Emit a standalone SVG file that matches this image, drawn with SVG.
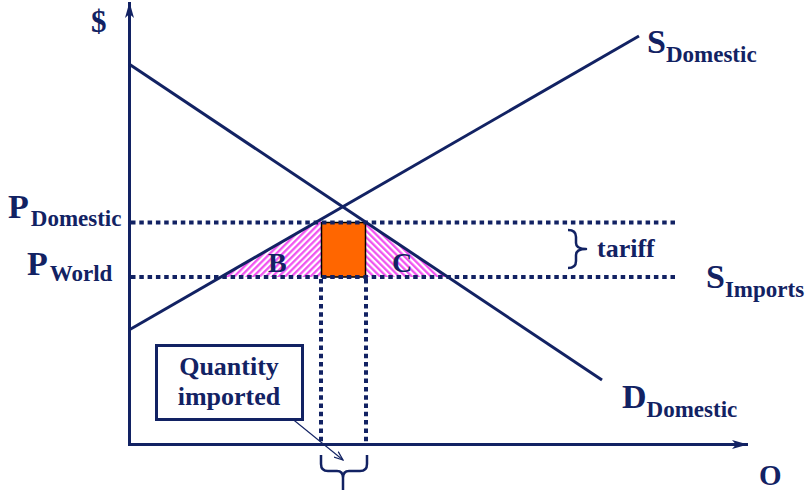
<svg xmlns="http://www.w3.org/2000/svg" width="811" height="490" viewBox="0 0 811 490">
<style>
.ln{stroke:#122263;stroke-width:3;fill:none}
.dot{stroke:#122263;stroke-width:4;stroke-dasharray:4.5 3.8;fill:none}
.br{stroke:#122263;stroke-width:2.5;fill:none;stroke-linejoin:round}
.t{font-family:'Liberation Serif','DejaVu Serif',serif;font-weight:bold;fill:#122263}
.big{font-size:34px}
.sub{font-size:23px}
.lab{font-size:26px}
</style>
<defs>
<marker id="ax" viewBox="0 0 16 9" markerWidth="16" markerHeight="9" refX="16" refY="4.5" orient="auto" markerUnits="userSpaceOnUse">
<path d="M0,0 L16,4.5 L0,9 L4,4.5 z" fill="#122263"/>
</marker>
<marker id="sm" viewBox="0 0 10 8" markerWidth="10" markerHeight="8" refX="9" refY="4" orient="auto" markerUnits="userSpaceOnUse">
<path d="M0,0.5 L9,4 L0,7.5" fill="none" stroke="#122263" stroke-width="1.2"/>
</marker>
<pattern id="hB" width="4.5" height="4.5" patternUnits="userSpaceOnUse" patternTransform="rotate(45)">
<rect width="4.5" height="4.5" fill="#fff"/>
<line x1="1.2" y1="0" x2="1.2" y2="4.5" stroke="#F04CF0" stroke-width="2.2"/>
</pattern>
<pattern id="hC" width="4.5" height="4.5" patternUnits="userSpaceOnUse" patternTransform="rotate(-45)">
<rect width="4.5" height="4.5" fill="#fff"/>
<line x1="1.2" y1="0" x2="1.2" y2="4.5" stroke="#F04CF0" stroke-width="2.2"/>
</pattern>
</defs>
<rect width="811" height="490" fill="#fff"/>

<g id="areaB"><polygon points="222,277 321,220 321,277" fill="url(#hB)"/></g>
<g id="areaC"><polygon points="366,222 366,277 448,277" fill="url(#hC)"/></g>
<g id="tariffRevenue"><rect x="321.5" y="222.5" width="44" height="54.5" fill="#FF6600" stroke="#000" stroke-width="1.5"/></g>

<g id="connectors">
<line id="yAxis" class="ln" x1="129.5" y1="445" x2="129.5" y2="2" marker-end="url(#ax)"/>
<line id="xAxis" class="ln" x1="128" y1="444.5" x2="748" y2="444.5" marker-end="url(#ax)"/>
<line id="demand" class="ln" x1="129" y1="64" x2="602" y2="380"/>
<line id="supply" class="ln" x1="129" y1="330" x2="639" y2="36"/>
<line id="pDom" class="dot" x1="131" y1="222.5" x2="676" y2="222.5"/>
<line id="pWorld" class="dot" x1="131" y1="277" x2="676" y2="277"/>
<line class="dot" x1="321" y1="279" x2="321" y2="443"/>
<line class="dot" x1="366" y1="279" x2="366" y2="443"/>
<line id="qArrow" x1="290" y1="417" x2="343" y2="460" stroke="#122263" stroke-width="1.1" marker-end="url(#sm)"/>
<path id="qBrace" class="br" d="M321,455 L321,464 Q321,471 328,471 L337,471 Q343,471 343,478 L343,492 M343,478 Q343,471 349,471 L360,471 Q367,471 367,464 L367,455"/>
<path id="tBrace" class="br" d="M568,230 Q576,230 576,237 L576,243 Q576,249 586,249 Q576,249 576,255 L576,261 Q576,268 568,268"/>
</g>

<g id="labels" font-family="Liberation Serif, DejaVu Serif, serif" font-weight="bold" fill="#122263">
<text class="t" x="91" y="32" font-size="31">$</text>
<text class="t big" x="8" y="218">P<tspan class="sub" dx="2" dy="8">Domestic</tspan></text>
<text class="t big" x="27" y="275">P<tspan class="sub" dx="2" dy="6">World</tspan></text>
<text class="t big" x="647" y="53">S<tspan class="sub" dy="9">Domestic</tspan></text>
<text class="t big" x="706" y="288">S<tspan class="sub" dy="9">Imports</tspan></text>
<text class="t big" x="622" y="408">D<tspan class="sub" dy="9">Domestic</tspan></text>
<text class="t" x="759" y="485" font-size="29">O</text>
<text class="t" x="268" y="272" font-size="28">B</text>
<text class="t" x="392" y="272" font-size="28">C</text>
<text class="t lab" x="597" y="257">tariff</text>
</g>

<g id="quantityImported" font-family="Liberation Serif, DejaVu Serif, serif" font-weight="bold" fill="#122263">
<rect x="156.5" y="345.5" width="146" height="74" fill="#fff" stroke="#122263" stroke-width="3"/>
<text class="t lab" x="229" y="375" text-anchor="middle">Quantity</text>
<text class="t lab" x="229" y="405" text-anchor="middle">imported</text>
</g>
</svg>
